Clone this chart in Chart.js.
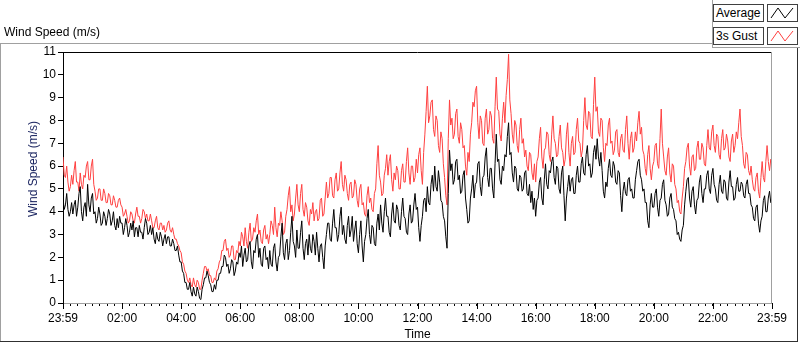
<!DOCTYPE html>
<html>
<head>
<meta charset="utf-8">
<script src="https://cdn.jsdelivr.net/npm/chart.js@4"></script>
<style>
  html, body { margin: 0; padding: 0; background: #fff; }
  #wrap { position: relative; width: 800px; height: 342px; overflow: hidden; font-family: "Liberation Sans", Arial, sans-serif; font-size: 12px; color: #000; }
  #chart { position: absolute; left: 0; top: 0; }
  .title { position: absolute; left: 4px; top: 25px; }
  .frameTop { position: absolute; left: 0; top: 43px; width: 712px; height: 0; border-top: 1px solid #a0a0a0; }
  .frameLeft { position: absolute; left: 0; top: 43px; width: 0; height: 299px; border-left: 1px solid #a0a0a0; }
  .frameBottom { position: absolute; left: 0; top: 341px; width: 798px; height: 0; border-top: 1px solid #303030; }
  .frameRight { position: absolute; left: 797px; top: 48px; width: 0; height: 294px; border-left: 1px solid #303030; }
  .legend { position: absolute; left: 712px; top: 0; width: 88px; height: 48px; border-left: 1px solid #a0a0a0; border-bottom: 1px solid #a0a0a0; box-sizing: border-box; }
  .lgName { position: absolute; left: 0; width: 51px; height: 18px; border: 1px solid #404040; box-sizing: border-box; line-height: 16px; padding-left: 2px; background: #fff; }
  .lgIcon { position: absolute; left: 54px; width: 31px; height: 18px; border: 1px solid #404040; box-sizing: border-box; background: #fff; }
  .yTitle { position: absolute; left: 33px; top: 169px; transform: translate(-50%, -50%) rotate(-90deg); white-space: nowrap; color: #1a2460; }
</style>
</head>
<body>
<div id="wrap">
  <canvas id="chart" width="800" height="342"></canvas>
  <div class="title">Wind Speed (m/s)</div>
  <div class="frameTop"></div>
  <div class="frameLeft"></div>
  <div class="frameBottom"></div>
  <div class="frameRight"></div>
  <div class="yTitle">Wind Speed (m/s)</div>
  <div class="legend">
    <div class="lgName" style="top:4px">Average</div>
    <div class="lgIcon" style="top:4px"><svg width="29" height="16"><polyline points="3,13 10,3 17,13 25,3" fill="none" stroke="#000" stroke-width="1"/></svg></div>
    <div class="lgName" style="top:27px">3s Gust</div>
    <div class="lgIcon" style="top:27px"><svg width="29" height="16"><polyline points="3,13 10,3 17,13 25,3" fill="none" stroke="#ff4040" stroke-width="1"/></svg></div>
  </div>
</div>
<script>
// x tick labels, one every 2 hours (first and last are 23:59)
const hourLabels = ['23:59', '02:00', '04:00', '06:00', '08:00', '10:00', '12:00',
  '14:00', '16:00', '18:00', '20:00', '22:00', '23:59'];

// samples every 2.5 min, one row per hour, last value = end of day
const average = [
  4.6, 4.1, 4.3, 4.8, 4.1, 3.8, 4.0, 4.4, 3.9, 4.3, 4.5, 3.8, 4.2, 4.8, 5.1, 4.0, 3.6, 4.2, 4.4, 3.8, 5.2, 4.3, 4.0, 4.6,
  4.8, 3.9, 4.0, 3.5, 3.7, 4.2, 3.9, 3.4, 3.5, 4.0, 3.8, 3.4, 3.7, 4.1, 3.9, 3.4, 3.6, 4.0, 3.4, 3.2, 3.7, 3.3, 3.8, 3.5,
  3.5, 3.0, 3.3, 3.7, 3.4, 2.9, 3.1, 3.5, 3.2, 3.6, 2.9, 3.3, 3.3, 2.9, 3.4, 3.1, 3.1, 2.8, 3.3, 3.7, 3.5, 3.0, 3.1, 3.4,
  3.0, 3.3, 2.8, 2.6, 3.1, 2.8, 2.7, 3.1, 2.9, 2.5, 2.8, 3.0, 2.6, 2.9, 2.9, 2.5, 2.5, 2.8, 2.6, 2.3, 2.3, 2.5, 2.1, 1.8,
  1.8, 1.4, 1.3, 0.9, 0.9, 0.6, 0.6, 0.9, 0.5, 0.3, 0.7, 0.4, 0.3, 0.7, 0.5, 0.2, 0.15, 0.6, 0.8, 1.1, 1.1, 1.4, 1.2, 0.9,
  0.8, 0.5, 0.5, 0.8, 0.6, 1.0, 1.0, 1.3, 1.3, 1.6, 1.6, 2.1, 2.0, 1.6, 1.7, 1.3, 1.5, 1.9, 1.8, 1.2, 1.4, 1.8, 1.7, 2.2,
  2.0, 2.5, 1.6, 2.1, 2.4, 1.8, 1.9, 2.5, 2.7, 1.8, 1.5, 2.3, 2.2, 2.8, 3.0, 2.0, 2.4, 1.7, 1.6, 2.4, 2.5, 1.9, 2.0, 1.5,
  2.3, 1.7, 1.6, 2.4, 2.6, 1.8, 1.4, 2.0, 2.1, 2.9, 3.5, 2.2, 1.9, 2.6, 2.8, 1.9, 2.3, 3.1, 3.8, 2.7, 2.5, 2.0, 3.2, 2.4,
  2.4, 3.1, 3.6, 2.4, 1.9, 2.6, 2.8, 2.1, 3.0, 2.4, 2.2, 3.0, 2.7, 2.1, 3.1, 2.4, 1.8, 2.5, 2.6, 2.0, 1.5, 2.5, 3.0, 3.5,
  3.5, 2.8, 2.7, 3.5, 4.1, 3.3, 3.3, 2.7, 3.0, 3.8, 4.2, 3.0, 3.4, 2.8, 2.6, 3.4, 3.8, 2.9, 3.2, 3.8, 2.7, 3.2, 3.6, 2.6,
  2.2, 3.0, 3.6, 2.5, 1.8, 2.7, 3.0, 3.7, 4.1, 3.0, 2.6, 3.4, 3.3, 2.6, 2.5, 3.5, 3.9, 3.2, 4.3, 3.5, 3.1, 4.0, 4.6, 3.8,
  3.8, 3.1, 2.9, 3.9, 4.4, 3.6, 3.5, 4.3, 4.1, 3.4, 3.2, 4.0, 4.6, 3.8, 3.7, 3.1, 3.0, 3.9, 4.3, 3.5, 3.6, 4.3, 4.8, 4.1,
  4.2, 3.3, 2.7, 3.4, 3.8, 4.5, 4.6, 4.0, 5.1, 4.4, 4.3, 5.2, 5.6, 4.9, 6.0, 5.1, 4.9, 5.8, 5.3, 4.5, 4.4, 3.8, 3.6, 2.9,
  2.4, 4.8, 6.7, 5.8, 6.1, 5.2, 5.4, 6.2, 6.3, 5.4, 5.6, 4.8, 4.9, 5.6, 5.8, 4.6, 4.1, 3.5, 3.6, 4.6, 5.0, 5.6, 4.6, 5.2,
  5.3, 6.1, 6.2, 5.1, 4.7, 5.5, 5.6, 6.4, 6.8, 5.5, 5.1, 5.9, 5.9, 5.0, 4.6, 6.1, 7.4, 6.2, 6.3, 5.4, 5.2, 6.0, 5.8, 6.5,
  6.4, 7.3, 7.9, 6.5, 6.6, 5.7, 5.3, 6.0, 5.9, 5.0, 4.9, 5.6, 5.5, 4.9, 5.0, 5.7, 5.8, 4.8, 4.7, 5.2, 4.4, 4.9, 4.1, 4.6,
  3.8, 4.5, 4.6, 5.3, 5.5, 4.6, 4.3, 5.4, 6.1, 5.2, 5.0, 5.8, 5.7, 6.2, 6.4, 5.5, 5.2, 6.0, 5.9, 5.0, 4.8, 5.7, 6.0, 4.7,
  3.6, 4.6, 5.1, 5.6, 4.9, 5.4, 5.5, 4.8, 4.8, 5.6, 6.0, 5.3, 5.3, 6.1, 6.4, 5.7, 5.6, 6.5, 6.9, 6.0, 6.1, 5.5, 5.7, 6.6,
  6.9, 6.3, 7.2, 6.4, 6.0, 6.6, 5.8, 4.9, 4.6, 5.3, 5.1, 5.9, 6.3, 5.6, 5.5, 6.2, 6.0, 5.3, 5.2, 5.8, 5.7, 4.7, 4.0, 4.9,
  5.3, 4.8, 4.7, 5.4, 5.5, 4.9, 5.0, 4.6, 4.6, 5.4, 5.8, 6.2, 6.3, 5.6, 5.4, 4.9, 5.0, 4.4, 4.4, 3.6, 3.3, 4.3, 4.8, 4.2,
  4.2, 4.8, 5.0, 4.2, 3.8, 4.5, 4.6, 5.2, 5.4, 4.5, 4.3, 3.8, 3.9, 4.6, 4.8, 4.2, 4.1, 3.7, 3.6, 3.0, 3.1, 2.8, 2.7, 3.2,
  3.4, 4.3, 4.9, 5.4, 5.5, 4.6, 4.2, 4.9, 5.1, 4.3, 3.9, 4.5, 4.6, 5.3, 5.6, 4.8, 4.4, 5.0, 5.0, 5.6, 5.8, 5.0, 4.8, 5.6,
  5.9, 5.2, 5.0, 4.5, 4.4, 5.2, 5.6, 4.9, 4.8, 5.4, 5.3, 4.6, 4.5, 5.3, 5.8, 5.1, 5.1, 4.5, 4.6, 5.2, 5.5, 4.9, 4.9, 5.3,
  5.2, 4.7, 4.6, 5.2, 5.4, 4.8, 4.8, 4.3, 4.2, 3.7, 3.6, 4.2, 4.3, 3.5, 3.1, 3.6, 3.8, 4.5, 4.7, 4.0, 4.0, 4.6, 4.9, 4.4,
  4.5
];

const gust = [
  6.4, 5.6, 5.5, 6.0, 5.3, 4.9, 5.1, 5.6, 5.2, 5.8, 6.2, 5.3, 5.3, 4.9, 5.7, 5.2, 5.0, 5.6, 5.5, 6.0, 6.2, 5.4, 5.4, 6.0,
  6.3, 5.2, 4.9, 4.5, 4.6, 5.0, 5.0, 4.5, 4.5, 5.0, 4.8, 4.4, 4.4, 4.8, 4.7, 4.3, 4.3, 4.7, 4.5, 4.2, 4.2, 4.5, 4.6, 4.3,
  4.2, 3.8, 3.9, 4.1, 3.8, 3.5, 3.6, 4.0, 3.9, 3.6, 3.5, 3.9, 4.2, 3.8, 3.8, 3.5, 3.7, 4.1, 4.0, 3.7, 3.9, 3.6, 3.6, 3.9,
  3.6, 3.3, 3.3, 3.6, 3.8, 3.3, 3.2, 3.5, 3.5, 3.2, 3.4, 3.1, 3.2, 3.5, 3.6, 3.2, 3.1, 3.3, 3.0, 2.8, 2.8, 2.6, 2.5, 2.3,
  2.2, 1.8, 1.7, 1.4, 1.3, 1.0, 0.9, 1.1, 0.8, 0.7, 1.1, 0.8, 0.7, 1.0, 0.9, 0.6, 0.6, 1.0, 1.3, 1.6, 1.6, 1.4, 1.5, 1.2,
  1.2, 0.9, 0.9, 1.1, 1.0, 1.4, 1.5, 1.8, 1.9, 2.3, 2.3, 2.7, 2.8, 2.3, 2.4, 2.0, 2.1, 2.5, 2.5, 1.9, 1.9, 2.3, 2.2, 2.7,
  2.5, 3.1, 2.9, 2.5, 3.3, 2.7, 2.4, 3.1, 3.5, 2.7, 2.8, 3.3, 3.1, 3.6, 3.9, 3.0, 3.2, 2.7, 2.6, 3.2, 3.4, 2.8, 3.0, 2.6,
  3.0, 3.6, 3.4, 3.0, 4.2, 3.3, 2.9, 3.5, 3.4, 4.0, 3.6, 3.0, 3.1, 3.8, 4.1, 4.7, 5.1, 4.0, 4.3, 3.6, 3.9, 4.6, 5.2, 4.3,
  4.0, 4.8, 5.2, 4.1, 3.8, 4.4, 4.2, 3.6, 3.4, 4.1, 3.9, 4.4, 3.6, 4.0, 4.1, 3.6, 3.7, 4.5, 4.6, 3.8, 3.9, 4.6, 5.3, 4.6,
  4.8, 5.5, 5.5, 4.7, 4.6, 5.4, 5.7, 4.9, 5.0, 5.7, 6.2, 5.2, 4.9, 5.6, 5.4, 4.8, 4.5, 5.2, 5.3, 4.6, 4.7, 5.4, 5.2, 4.5,
  4.2, 5.0, 5.2, 4.3, 4.4, 3.9, 3.8, 4.7, 5.1, 4.4, 4.6, 4.1, 4.0, 4.8, 5.0, 6.1, 6.9, 5.6, 5.3, 4.7, 4.8, 5.6, 5.9, 6.5,
  5.6, 6.2, 6.5, 5.4, 4.9, 5.7, 5.4, 6.0, 5.8, 5.0, 5.0, 5.8, 6.1, 5.3, 5.3, 6.2, 6.8, 5.7, 5.2, 6.0, 6.0, 5.3, 5.5, 6.3,
  5.7, 6.5, 6.8, 5.8, 5.2, 6.6, 7.4, 8.4, 9.5, 7.9, 8.2, 8.8, 8.9, 7.6, 7.3, 8.2, 8.0, 6.9, 6.6, 7.5, 7.2, 6.1, 5.5, 4.7,
  4.3, 7.2, 8.9, 7.8, 8.1, 7.2, 7.4, 8.3, 8.5, 7.3, 7.0, 7.9, 7.6, 6.8, 6.9, 6.0, 5.6, 6.6, 6.2, 7.4, 7.9, 8.8, 8.6, 9.3,
  9.5, 7.9, 7.2, 8.2, 8.0, 7.0, 6.9, 8.1, 8.5, 7.4, 7.6, 8.4, 8.2, 7.2, 7.0, 8.6, 9.9, 8.5, 8.4, 7.4, 7.1, 8.1, 8.8, 7.9,
  9.1, 9.8, 10.9, 8.9, 8.3, 7.4, 7.0, 8.0, 7.8, 6.9, 6.6, 7.6, 8.1, 7.0, 7.2, 6.4, 6.7, 6.0, 5.8, 6.6, 6.5, 5.7, 5.4, 6.1,
  5.3, 6.2, 6.4, 7.2, 7.7, 6.4, 5.9, 6.7, 6.8, 7.5, 7.4, 6.5, 6.2, 7.4, 8.2, 7.2, 7.0, 6.4, 6.5, 7.3, 7.8, 6.8, 6.6, 6.0,
  6.3, 7.4, 7.9, 6.6, 6.0, 7.0, 7.3, 6.5, 6.6, 7.6, 8.1, 7.1, 7.0, 6.4, 6.7, 8.0, 9.0, 7.8, 7.6, 8.4, 8.3, 7.3, 7.2, 8.7,
  9.9, 8.4, 8.6, 7.5, 7.3, 8.1, 8.0, 6.8, 6.2, 7.0, 6.9, 7.8, 8.1, 7.0, 7.1, 6.5, 6.7, 7.5, 7.6, 6.6, 6.4, 7.2, 7.4, 6.7,
  6.6, 7.6, 8.2, 7.0, 6.3, 7.2, 7.5, 6.6, 6.8, 7.5, 7.1, 7.9, 8.4, 7.4, 7.7, 6.7, 6.5, 5.9, 5.6, 6.5, 6.9, 5.9, 5.4, 6.0,
  6.2, 6.9, 7.0, 6.1, 5.9, 7.2, 8.5, 7.0, 6.4, 5.8, 5.6, 6.4, 6.8, 5.7, 5.3, 6.1, 6.0, 5.2, 5.0, 4.4, 4.5, 4.0, 3.9, 4.6,
  5.1, 5.9, 6.2, 6.8, 7.0, 6.0, 5.6, 6.4, 6.5, 5.8, 5.9, 6.8, 7.1, 6.3, 6.3, 7.0, 6.8, 6.1, 6.0, 6.9, 7.6, 6.8, 6.7, 7.5,
  7.8, 6.9, 6.6, 7.4, 7.3, 6.5, 6.3, 7.2, 7.6, 6.7, 6.8, 7.4, 7.1, 6.4, 6.2, 7.1, 7.4, 6.6, 6.9, 7.5, 7.2, 7.9, 8.5, 7.3,
  6.9, 6.1, 5.9, 6.6, 6.5, 5.8, 5.6, 6.0, 5.4, 5.0, 4.9, 5.5, 5.7, 4.9, 4.6, 5.5, 6.2, 5.5, 5.3, 6.2, 6.9, 6.2, 5.8, 6.3,
  6.0
];

// minutes since 23:59 between two samples
const sampleStep = 2.5;
const toPoints = arr => arr.map((v, i) => ({ x: i * sampleStep, y: v }));

// frame on top and right side of the plot area, longer marks on labelled x ticks
const plotFrame = {
  id: 'plotFrame',
  afterDraw(chart) {
    const { ctx, chartArea: a } = chart;
    const xs = chart.scales.x;
    ctx.save();
    ctx.lineWidth = 1;
    ctx.strokeStyle = '#000';
    ctx.beginPath();
    ctx.moveTo(a.left, a.top + 0.5);
    ctx.lineTo(a.right, a.top + 0.5);
    ctx.stroke();
    ctx.beginPath();
    hourLabels.forEach((lab, i) => {
      const px = Math.round(xs.getPixelForValue(i * 120)) + 0.5;
      ctx.moveTo(px, a.bottom);
      ctx.lineTo(px, a.bottom + 6);
    });
    ctx.stroke();
    ctx.strokeStyle = '#a0a0a0';
    ctx.beginPath();
    ctx.moveTo(a.right - 0.5, a.top);
    ctx.lineTo(a.right - 0.5, a.bottom);
    ctx.stroke();
    ctx.restore();
  }
};

const tickFont = { family: '"Liberation Sans", Arial, sans-serif', size: 12 };

new Chart(document.getElementById('chart'), {
  type: 'line',
  data: {
    datasets: [
      {
        label: 'Average',
        data: toPoints(average),
        borderColor: '#000',
        borderWidth: 1,
        pointRadius: 0,
        tension: 0
      },
      {
        label: '3s Gust',
        data: toPoints(gust),
        borderColor: '#ff4040',
        borderWidth: 1,
        pointRadius: 0,
        tension: 0
      }
    ]
  },
  options: {
    responsive: false,
    animation: false,
    events: [],
    layout: { padding: { top: 52, right: 28, bottom: 0, left: 0 } },
    plugins: {
      legend: { display: false },
      tooltip: { enabled: false }
    },
    scales: {
      x: {
        type: 'linear',
        min: 0,
        max: 1440,
        afterFit: s => { s.height = 39; },
        ticks: {
          stepSize: 15,
          autoSkip: false,
          maxRotation: 0,
          padding: 5,
          color: '#000',
          font: tickFont,
          callback: v => (v % 120 === 0 ? hourLabels[v / 120] : '')
        },
        grid: { drawOnChartArea: false, tickLength: 3, tickColor: '#000' },
        border: { color: '#a0a0a0' },
        title: {
          display: true,
          text: 'Time',
          color: '#000',
          font: tickFont,
          padding: { top: 0, bottom: 0 }
        }
      },
      y: {
        min: 0,
        max: 11,
        afterFit: s => { s.width = 63; },
        ticks: { stepSize: 1, padding: 2, color: '#000', font: tickFont },
        grid: { drawOnChartArea: false, tickLength: 5, tickColor: '#000' },
        border: { color: '#000' }
      }
    }
  },
  plugins: [plotFrame]
});
</script>
</body>
</html>
